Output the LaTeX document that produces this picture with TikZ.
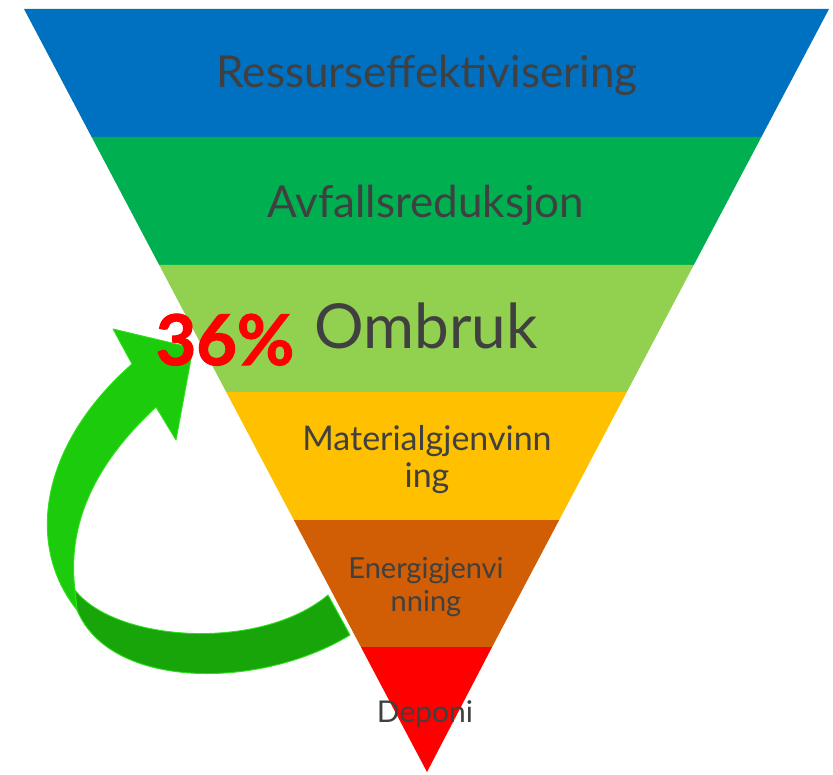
\documentclass[tikz,border=0pt]{standalone}
\usepackage{fontspec}
\setmainfont{Lato}
\definecolor{bandA}{HTML}{0070C0}
\definecolor{bandB}{HTML}{00B050}
\definecolor{bandC}{HTML}{92D050}
\definecolor{bandD}{HTML}{FFC000}
\definecolor{bandE}{HTML}{D15E05}
\definecolor{bandF}{HTML}{FF0000}
\definecolor{txt}{HTML}{404040}
\definecolor{arrowlight}{HTML}{1DCB0D}
\definecolor{arrowdark}{HTML}{17A50A}
\definecolor{arrowedge}{HTML}{2EE01C}
\begin{document}
\begin{tikzpicture}[x=1pt,y=-1pt,
  band/.style={draw=none},
  lbl/.style={text=txt, anchor=base, inner sep=0pt, align=center},
  ribbon/.style={draw=arrowedge, line width=0.9pt, line join=round}]
\useasboundingbox (0,0) rectangle (833,775);
% bands of the inverted pyramid
\fill[bandA] (24,9) -- (829,9) -- (761.4,137) -- (91.6,137) -- cycle;
\fill[bandB] (91.6,137) -- (761.4,137) -- (693.8,265) -- (159.2,265) -- cycle;
\fill[bandC] (159.2,265) -- (693.8,265) -- (626.8,392) -- (226.2,392) -- cycle;
\fill[bandD] (226.2,392) -- (626.8,392) -- (559.2,520) -- (293.8,520) -- cycle;
\fill[bandE] (293.8,520) -- (559.2,520) -- (492.1,647) -- (360.9,647) -- cycle;
\fill[bandF] (360.9,647) -- (492.1,647) -- (427,772) -- cycle;
% curved arrow: dark lower ribbon
\filldraw[ribbon, fill=arrowdark] (75,590) .. controls (115,642) and (260,652) .. (328,595)
  -- (350,635) .. controls (260,690) and (110,690) .. (77,610) -- cycle;
% curved arrow: bright shaft and head
\filldraw[ribbon, fill=arrowlight] (113,329) -- (193,348) -- (176,440) -- (156,407)
  .. controls (110,450) and (65,510) .. (75,590) -- (77,610)
  .. controls (25,545) and (40,445) .. (132,364) -- cycle;
% labels
\node[lbl, font=\fontsize{44}{50}\selectfont] (t1) at (427,88) {Ressurseffektivisering};
\node[lbl, font=\fontsize{44}{50}\selectfont] (t2) at (426,218) {Avfallsreduksjon};
\node[lbl, font=\fontsize{62}{70}\selectfont] (t3) at (426,349) {Ombruk};
\node[lbl, text=bandF, font=\fontsize{70}{80}\selectfont\bfseries\addfontfeatures{FakeBold=1.5}] (p) at (225,365) {36\%};
\node[lbl, font=\fontsize{34}{40}\selectfont] (t4a) at (427,450) {Materialgjenvinn};
\node[lbl, font=\fontsize{34}{40}\selectfont] (t4b) at (427,488) {ing};
\node[lbl, font=\fontsize{29}{34}\selectfont] (t5a) at (426,578) {Energigjenvi};
\node[lbl, font=\fontsize{29}{34}\selectfont] (t5b) at (426,611) {nning};
\node[lbl, font=\fontsize{30}{34}\selectfont] (t6) at (425,722) {Deponi};
\end{tikzpicture}
\end{document}
